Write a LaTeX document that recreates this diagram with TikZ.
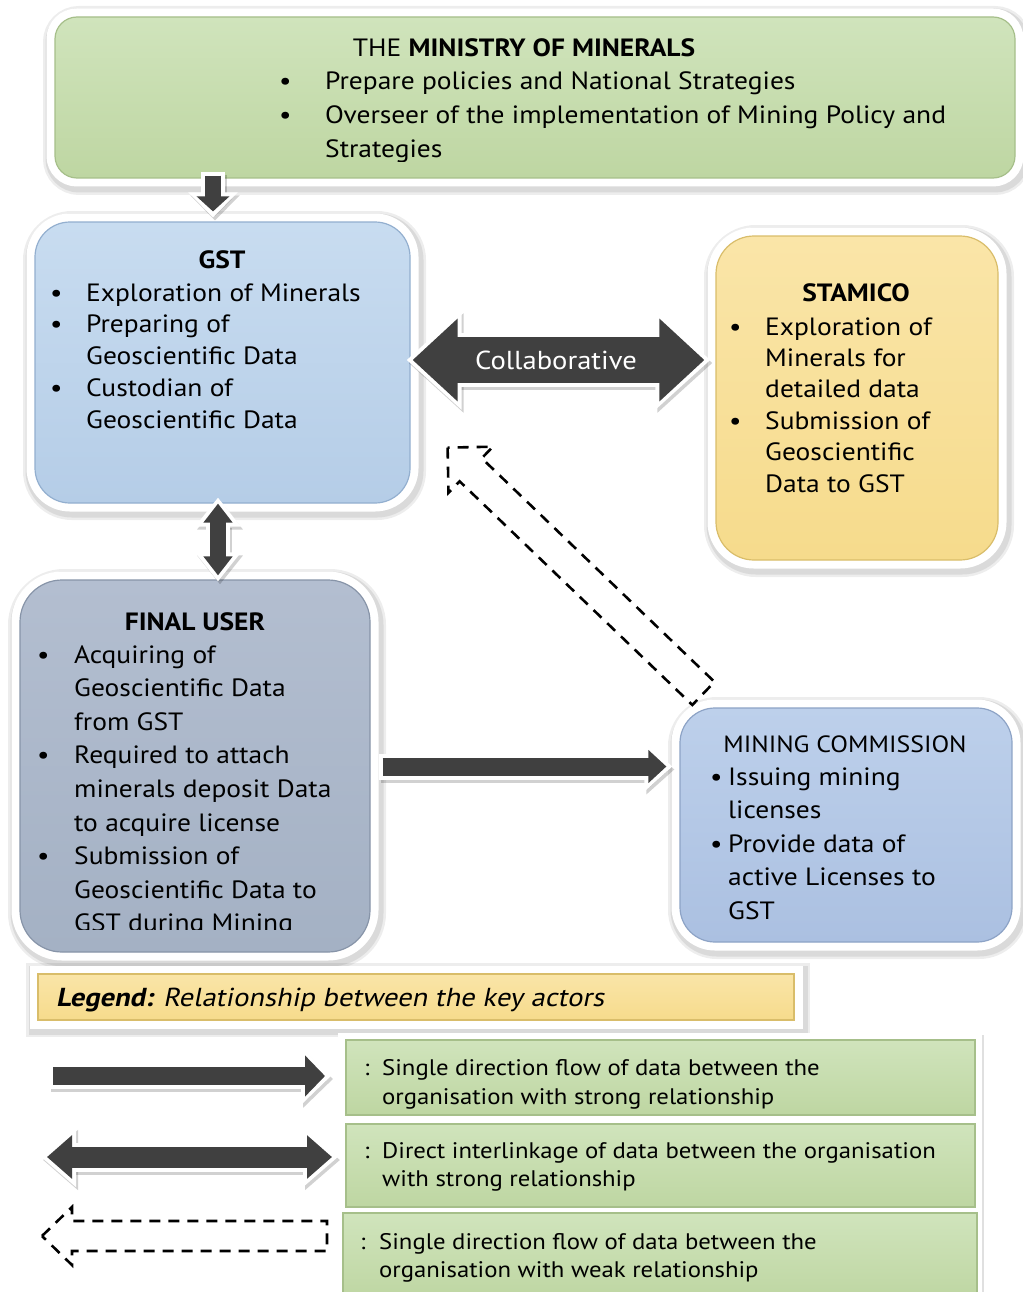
\documentclass[tikz,border=0pt]{standalone}
\usepackage{fontspec}
\setmainfont[FakeStretch=1.1]{PT Sans}
\newfontfamily\oblfont[FakeSlant=0.2,FakeStretch=1.1]{PT Sans}
\usetikzlibrary{arrows.meta,calc}
\definecolor{arrowgray}{HTML}{404040}
\definecolor{grnT}{HTML}{D0E4BC}
\definecolor{grnB}{HTML}{BED6A2}
\definecolor{grnD}{HTML}{A6BF8A}
\definecolor{bluT}{HTML}{C8DCF0}
\definecolor{bluB}{HTML}{B5CDE7}
\definecolor{bluD}{HTML}{93AFCF}
\definecolor{yelT}{HTML}{FAE5A8}
\definecolor{yelB}{HTML}{F6DB8C}
\definecolor{yelD}{HTML}{D9BD6A}
\definecolor{gryT}{HTML}{B3BED0}
\definecolor{gryB}{HTML}{A4B1C4}
\definecolor{gryD}{HTML}{8794A8}
\definecolor{mcT}{HTML}{BDD0EB}
\definecolor{mcB}{HTML}{ABC0E1}
\definecolor{mcD}{HTML}{8DA3C6}
\newcommand\bt{\textbullet}
\newcommand\sarrow[5]{%
  \pgfmathsetmacro\myOW{#1+8}\pgfmathsetmacro\myOL{#2+10}\pgfmathsetmacro\myOH{#3+16}%
  \draw[black, opacity=0.18, line width=\myOW pt, -{Triangle[length=\myOL pt,width=\myOH pt]}, shorten >=-6pt, shorten <=-4pt, transform canvas={shift={(2pt,-3pt)}}] #4 -- #5;
  \draw[white, line width=\myOW pt, -{Triangle[length=\myOL pt,width=\myOH pt]}, shorten >=-6pt, shorten <=-4pt] #4 -- #5;
  \draw[arrowgray, line width=#1pt, -{Triangle[length=#2pt,width=#3pt]}] #4 -- #5;}
\newcommand\darrow[5]{%
  \pgfmathsetmacro\myOW{#1+8}\pgfmathsetmacro\myOL{#2+10}\pgfmathsetmacro\myOH{#3+16}%
  \draw[black, opacity=0.18, line width=\myOW pt, {Triangle[length=\myOL pt,width=\myOH pt]}-{Triangle[length=\myOL pt,width=\myOH pt]}, shorten >=-6pt, shorten <=-6pt, transform canvas={shift={(2pt,-3pt)}}] #4 -- #5;
  \draw[white, line width=\myOW pt, {Triangle[length=\myOL pt,width=\myOH pt]}-{Triangle[length=\myOL pt,width=\myOH pt]}, shorten >=-6pt, shorten <=-6pt] #4 -- #5;
  \draw[arrowgray, line width=#1pt, {Triangle[length=#2pt,width=#3pt]}-{Triangle[length=#2pt,width=#3pt]}] #4 -- #5;}
\begin{document}
\begin{tikzpicture}[x=1pt,y=-1pt,
  boxbase/.style={inner sep=0, line width=1.2pt,
    preaction={draw=black, opacity=0.07, line width=28pt, transform canvas={shift={(2pt,-3pt)}}},
    preaction={draw=black, opacity=0.08, line width=23pt, transform canvas={shift={(2pt,-3pt)}}},
    preaction={draw=white, line width=17pt}},
  f/.style={font=\fontsize{25}{#1}\selectfont, inner sep=0},
  lf/.style={font=\fontsize{22.5}{#1}\selectfont, inner sep=0},
  dsh/.style={draw=black, line width=2.6pt, dash pattern=on 11pt off 8pt}
]
\useasboundingbox (0,0) rectangle (1022,1292);
\fill[white] (0,0) rectangle (1022,1292);

% ---------- boxes
\node[boxbase, rounded corners=22pt, draw=grnD, top color=grnT, bottom color=grnB, minimum width=960pt, minimum height=161pt] (min) at (535,97.5) {};
\node[boxbase, rounded corners=35pt, draw=bluD, top color=bluT, bottom color=bluB, minimum width=375pt, minimum height=281pt] (gst) at (222.5,362.5) {};
\node[boxbase, rounded corners=38pt, draw=yelD, top color=yelT, bottom color=yelB, minimum width=282pt, minimum height=324pt] (sta) at (857,398) {};
\node[boxbase, rounded corners=42pt, draw=gryD, top color=gryT, bottom color=gryB, minimum width=350pt, minimum height=372pt] (fin) at (195,766) {};
\node[boxbase, rounded corners=35pt, draw=mcD, top color=mcT, bottom color=mcB, minimum width=332pt, minimum height=234pt] (mc) at (846,825) {};
\node[boxbase, draw=yelD, top color=yelT, bottom color=yelB, minimum width=756pt, minimum height=46pt] (lh) at (416,997) {};

% ---------- box texts
\node[f=34, anchor=base] (mh) at (524,57) {THE \textbf{MINISTRY OF MINERALS}};
\begin{scope}
\clip (0,0) rectangle (1022,162);
\node[f=34, anchor=base west] (ml) at (279,90) {\begin{tabular}[t]{@{}p{46pt}@{}l@{}}
\bt & Prepare policies and National Strategies\\
\bt & Overseer of the implementation of Mining Policy and\\
 & Strategies\end{tabular}};
\end{scope}

\node[f=31.75, anchor=base] (gh) at (222,268) {\textbf{GST}};
\node[f=31.75, anchor=base west] (gl) at (50,301) {\begin{tabular}[t]{@{}p{36pt}@{}l@{}}
\bt & Exploration of Minerals\\
\bt & Preparing of\\
 & Geoscientific Data\\
\bt & Custodian of\\
 & Geoscientific Data\end{tabular}};

\node[f=31.4, anchor=base] (sh) at (856,301) {\textbf{STAMICO}};
\node[f=31.4, anchor=base west] (sl) at (729,335) {\begin{tabular}[t]{@{}p{36pt}@{}l@{}}
\bt & Exploration of\\
 & Minerals for\\
 & detailed data\\
\bt & Submission of\\
 & Geoscientific\\
 & Data to GST\end{tabular}};

\node[f=33.6, anchor=base] (fh) at (195,630) {\textbf{FINAL USER}};
\begin{scope}
\clip (0,0) rectangle (1022,929);
\node[f=33.6, anchor=base west] (fl) at (37,663) {\begin{tabular}[t]{@{}p{37pt}@{}l@{}}
\bt & Acquiring of\\
 & Geoscientific Data\\
 & from GST\\
\bt & Required to attach\\
 & minerals deposit Data\\
 & to acquire license\\
\bt & Submission of\\
 & Geoscientific Data to\\
 & GST during Mining\end{tabular}};
\end{scope}

\node[font=\fontsize{23.5}{30}\selectfont, inner sep=0, anchor=base] (ch) at (845,752) {MINING COMMISSION};
\node[f=33.5, anchor=base west] (cl) at (710,785) {\begin{tabular}[t]{@{}p{18pt}@{}l@{}}
\bt & Issuing mining\\
 & licenses\\
\bt & Provide data of\\
 & active Licenses to\\
 & GST\end{tabular}};

% ---------- connectors
\sarrow{16}{15}{32}{($(gst.north |- min.south)+(-9.5,-3)$)}{($(gst.north)+(-9.5,-10)$)}
\darrow{46}{45}{80}{($(gst.east)+(2,-2.5)$)}{($(gst.east -| sta.west)+(-11,-2.5)$)}
\node[font=\fontsize{26}{30}\selectfont, inner sep=0, text=white, anchor=base] (collab) at ($(gst.east)!0.5!(gst.east -| sta.west)+(-7,6.5)$) {Collaborative};
\darrow{16}{19}{28}{($(gst.south)+(-4.5,0)$)}{($(gst.south |- fin.north)+(-4.5,-4)$)}
\sarrow{18}{18}{32}{($(fin.east)+(12,0.5)$)}{($(fin.east -| mc.west)+(-13,0.5)$)}

% dashed weak arrow from mining commission towards GST
\coordinate (dtail) at ($(mc.north west)+(24,-14)$);
\coordinate (dtip) at ($(gst.south east)+(37,-56)$);
\coordinate (hb) at ($(dtip)!32pt!(dtail)$);
\coordinate (h1) at ($(hb)!32pt!90:(dtip)$);
\coordinate (h2) at ($(hb)!32pt!-90:(dtip)$);
\coordinate (s1) at ($(hb)!16pt!90:(dtip)$);
\coordinate (s2) at ($(hb)!16pt!-90:(dtip)$);
\coordinate (t1) at ($(dtail)!16pt!90:(dtip)$);
\coordinate (t2) at ($(dtail)!16pt!-90:(dtip)$);
\draw[dsh] (dtip) -- (h1) -- (s1) -- (t1) -- (t2) -- (s2) -- (h2) -- cycle;

% ---------- legend
\node[font=\fontsize{26}{30}\selectfont\oblfont, inner sep=0, anchor=base west] (lht) at (56,1006) {\textbf{Legend:} Relationship between the key actors};

\node[inner sep=0, fill=white, minimum width=644pt, minimum height=267pt,
  preaction={fill=black, opacity=0.12, transform canvas={shift={(2pt,-2pt)}}}] (lp) at (660,1166.5) {};
\node[inner sep=0, draw=grnD, line width=1.2pt, top color=grnT, bottom color=grnB, minimum width=629pt, minimum height=75pt] (r1) at (660.5,1077.5) {};
\node[inner sep=0, draw=grnD, line width=1.2pt, top color=grnT, bottom color=grnB, minimum width=629pt, minimum height=83pt] (r2) at (660.5,1165.5) {};
\node[inner sep=0, draw=grnD, line width=1.2pt, top color=grnT, bottom color=grnB, minimum width=634pt, minimum height=87pt] (r3) at (660,1256.5) {};

\node[lf=29, anchor=base west] (r1t) at (364,1075) {\begin{tabular}[t]{@{}p{18pt}@{}l@{}}
: & Single direction flow of data between the\\
 & organisation with strong relationship\end{tabular}};
\node[lf=28, anchor=base west] (r2t) at (364,1158) {\begin{tabular}[t]{@{}p{18pt}@{}l@{}}
: & Direct interlinkage of data between the organisation\\
 & with strong relationship\end{tabular}};
\node[lf=28, anchor=base west] (r3t) at (360,1249) {\begin{tabular}[t]{@{}p{19pt}@{}l@{}}
: & Single direction flow of data between the\\
 & organisation with weak relationship\end{tabular}};

\coordinate (la1) at (53,1076);
\coordinate (lb1) at (325,1076);
\sarrow{18}{20}{40}{(la1)}{(lb1)}
\coordinate (la2) at (47,1157);
\coordinate (lb2) at (332,1157);
\darrow{21}{25}{42}{(la2)}{(lb2)}
\coordinate (lc) at (42,1236);
\draw[dsh] (lc) -- (72,1207) -- (72,1221) -- (327,1221) -- (327,1251) -- (72,1251) -- (72,1265) -- cycle;
\end{tikzpicture}
\end{document}
